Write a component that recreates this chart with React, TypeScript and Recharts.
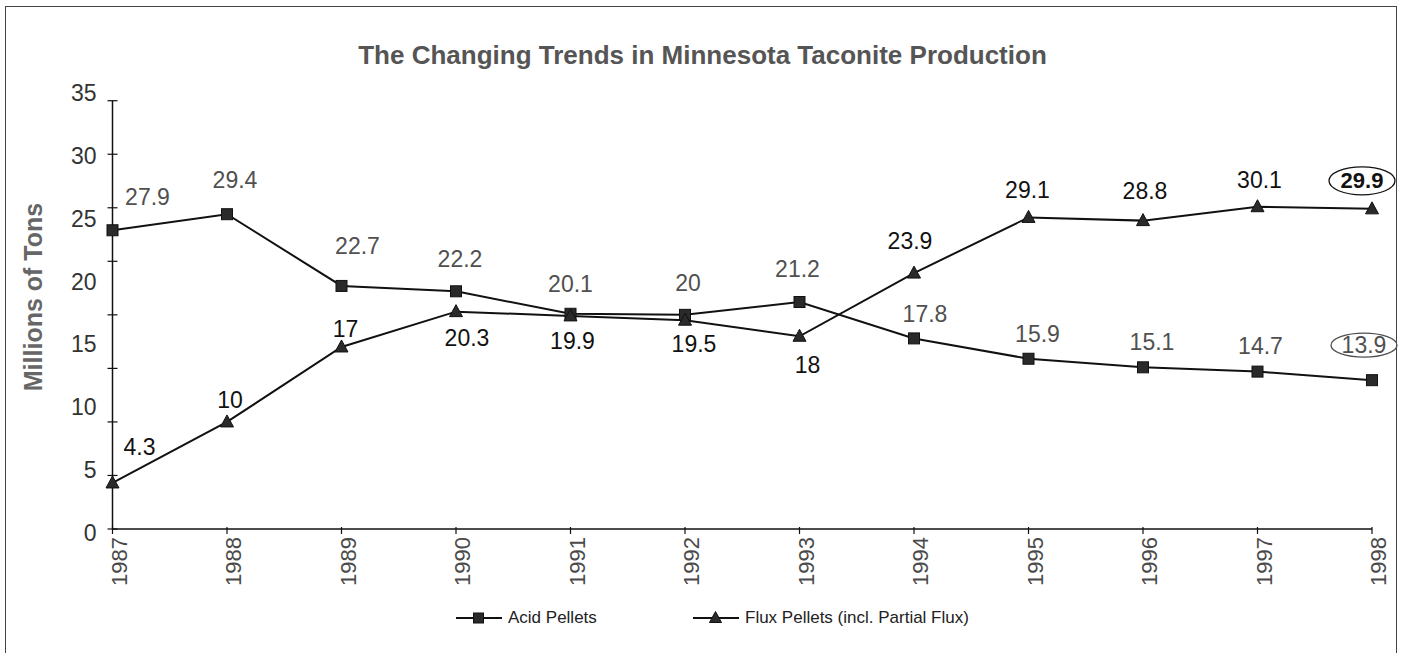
import React from 'react';
import { LineChart, Line, XAxis, YAxis, Legend, LabelList } from 'recharts';

const years = ['1987', '1988', '1989', '1990', '1991', '1992', '1993', '1994', '1995', '1996', '1997', '1998'];
const acidPellets = [27.9, 29.4, 22.7, 22.2, 20.1, 20, 21.2, 17.8, 15.9, 15.1, 14.7, 13.9];
const fluxPellets = [4.3, 10, 17, 20.3, 19.9, 19.5, 18, 23.9, 29.1, 28.8, 30.1, 29.9];
const yTickMarks = [0, 5, 10, 15, 20, 25, 30, 35, 40];
const yTickLabels = [0, 5, 10, 15, 20, 25, 30, 35];

const titleText = 'The Changing Trends in Minnesota Taconite Production';
const yAxisTitle = 'Millions of Tons';
const acidName = 'Acid Pellets';
const fluxName = 'Flux Pellets (incl. Partial Flux)';

// label placement (dx, dy from the point to the label centre)
const acidLabelOffsets = [
  [35, -33], [8, -34], [16, -40], [4, -32], [0, -30], [3, -32],
  [-2, -33], [11, -24], [9, -25], [9, -25], [3, -26], [-8, -35],
];
const fluxLabelOffsets = [
  [27, -36], [3, -22], [4, -18], [11, 26], [2, 25], [9, 24],
  [8, 29], [-4, -32], [-1, -27], [2, -30], [2, -27], [-10, -28],
];

const data = years.map((year, i) => ({ year, acid: acidPellets[i], flux: fluxPellets[i] }));

const FONT = '"Liberation Sans", Arial, Helvetica, sans-serif';

const makeLabel = (offsets: number[][], color: string, circledBold: boolean) => (props: any) => {
  const { x, y, value } = props;
  let index = props.index;
  if (index === undefined || index === null) index = 0;
  const off = offsets[index] || [0, -30];
  const cx = Number(x) + off[0];
  const cy = Number(y) + off[1];
  const circled = index === years.length - 1;
  return (
    <g key={`lbl-${index}`}>
      {circled && (
        <ellipse cx={cx} cy={cy} rx={33} ry={circledBold ? 14 : 12} fill="none" stroke={color} strokeWidth={1.3} />
      )}
      <text
        x={cx}
        y={cy}
        textAnchor="middle"
        dominantBaseline="central"
        fontFamily={FONT}
        fontSize={circled && circledBold ? 22 : 23}
        fontWeight={circled && circledBold ? 'bold' : 'normal'}
        fill={color}
      >
        {String(value)}
      </text>
    </g>
  );
};

const renderSquare = (props: any) => {
  const { cx, cy, index } = props;
  if (cx == null || cy == null) return <g key={`sq-${index}`} />;
  return <rect key={`sq-${index}`} x={cx - 5.5} y={cy - 5.5} width={11} height={11} fill="#2a2a2a" stroke="#111" strokeWidth={1} />;
};

const renderTriangle = (props: any) => {
  const { cx, cy, index } = props;
  if (cx == null || cy == null) return <g key={`tr-${index}`} />;
  return (
    <polygon
      key={`tr-${index}`}
      points={`${cx},${cy - 7} ${cx - 6.5},${cy + 5} ${cx + 6.5},${cy + 5}`}
      fill="#2a2a2a"
      stroke="#111"
      strokeWidth={1}
    />
  );
};

// x tick: crossing tick mark plus rotated year label
const XTick = (props: any) => {
  const { x, y, payload } = props;
  const tx = Number(x);
  const ty = Number(y);
  const ax = tx + 14;
  return (
    <g>
      <line x1={tx} y1={ty - 10} x2={tx} y2={ty - 3} stroke="#111" strokeWidth={1.2} />
      <text
        x={ax}
        y={ty}
        transform={`rotate(-90 ${ax} ${ty})`}
        textAnchor="end"
        fontFamily={FONT}
        fontSize={22}
        fill="#4a4a4a"
      >
        {payload.value}
      </text>
    </g>
  );
};

// y tick: crossing tick mark; value labels are spread on their own spacing as in the original
const YTick = (props: any) => {
  const { x, y, payload } = props;
  const v = Number(payload.value);
  const axisX = Number(x) + 16;
  const showLabel = yTickLabels.indexOf(v) >= 0;
  return (
    <g>
      <line x1={axisX - 5} y1={y} x2={axisX + 5} y2={y} stroke="#111" strokeWidth={1.2} />
      {showLabel && (
        <text
          x={x}
          y={Number(y) + 4 - v * 1.8635}
          textAnchor="end"
          dominantBaseline="central"
          fontFamily={FONT}
          fontSize={23}
          fill="#333"
        >
          {payload.value}
        </text>
      )}
    </g>
  );
};

const YTitle = () => (
  <text
    x={33}
    y={297}
    transform="rotate(-90 33 297)"
    textAnchor="middle"
    dominantBaseline="central"
    fontFamily={FONT}
    fontSize={25}
    fontWeight="bold"
    fill="#666"
  >
    {yAxisTitle}
  </text>
);

const LegendContent = () => (
  <div style={{ position: 'relative', height: 0 }}>
    <div style={{ position: 'absolute', left: 456, top: 0, height: 24, display: 'flex', alignItems: 'center' }}>
      <svg width={46} height={24} style={{ display: 'block' }}>
        <line x1={0} y1={12} x2={46} y2={12} stroke="#111" strokeWidth={2} />
        <rect x={17.5} y={7} width={10} height={10} fill="#2a2a2a" stroke="#111" />
      </svg>
      <span style={{ marginLeft: 6, fontFamily: FONT, fontSize: 17, color: '#222', whiteSpace: 'nowrap' }}>{acidName}</span>
    </div>
    <div style={{ position: 'absolute', left: 693, top: 0, height: 24, display: 'flex', alignItems: 'center' }}>
      <svg width={46} height={24} style={{ display: 'block' }}>
        <line x1={0} y1={12} x2={46} y2={12} stroke="#111" strokeWidth={2} />
        <polygon points="22.5,5.5 16.5,16.5 28.5,16.5" fill="#2a2a2a" stroke="#111" />
      </svg>
      <span style={{ marginLeft: 6, fontFamily: FONT, fontSize: 17, color: '#222', whiteSpace: 'nowrap' }}>{fluxName}</span>
    </div>
  </div>
);

export default function App() {
  return (
    <div style={{ position: 'absolute', left: 0, top: 0, width: 1401, height: 653, background: '#fff', overflow: 'hidden' }}>
      <div
        style={{
          position: 'absolute',
          left: 5,
          top: 6,
          width: 1392,
          height: 660,
          border: '1.5px solid #444',
          boxSizing: 'border-box',
        }}
      />
      <div
        style={{
          position: 'absolute',
          left: 0,
          top: 40,
          width: 1405,
          textAlign: 'center',
          fontFamily: FONT,
          fontSize: 26,
          fontWeight: 'bold',
          color: '#555',
          lineHeight: '30px',
        }}
      >
        {titleText}
      </div>
      <div style={{ position: 'absolute', left: 0, top: 0 }}>
        <LineChart width={1401} height={653} data={data} margin={{ top: 100.7, right: 29, bottom: 0, left: 0 }}>
          <XAxis
            dataKey="year"
            interval={0}
            height={124}
            tickSize={0}
            tickMargin={8}
            tick={<XTick />}
            axisLine={{ stroke: '#111', strokeWidth: 1.5 }}
            tickLine={false}
            padding={{ left: 0, right: 0 }}
          />
          <YAxis
            yAxisId="main"
            type="number"
            domain={[0, 40]}
            ticks={yTickMarks}
            interval={0}
            width={112.5}
            tickSize={0}
            tickMargin={16}
            tick={<YTick />}
            axisLine={{ stroke: '#111', strokeWidth: 1.5 }}
            tickLine={false}
            label={{ value: yAxisTitle, content: <YTitle /> }}
          />
          <Legend
            verticalAlign="bottom"
            content={<LegendContent />}
            wrapperStyle={{ position: 'absolute', left: 0, top: 606, bottom: 'auto', width: 1401, height: 0 }}
          />
          <Line
            yAxisId="main"
            type="linear"
            dataKey="acid"
            name={acidName}
            stroke="#111"
            strokeWidth={2}
            dot={renderSquare}
            activeDot={false}
            isAnimationActive={false}
          >
            <LabelList dataKey="acid" content={makeLabel(acidLabelOffsets, '#505050', false)} />
          </Line>
          <Line
            yAxisId="main"
            type="linear"
            dataKey="flux"
            name={fluxName}
            stroke="#111"
            strokeWidth={2}
            dot={renderTriangle}
            activeDot={false}
            isAnimationActive={false}
          >
            <LabelList dataKey="flux" content={makeLabel(fluxLabelOffsets, '#111', true)} />
          </Line>
        </LineChart>
      </div>
    </div>
  );
}
